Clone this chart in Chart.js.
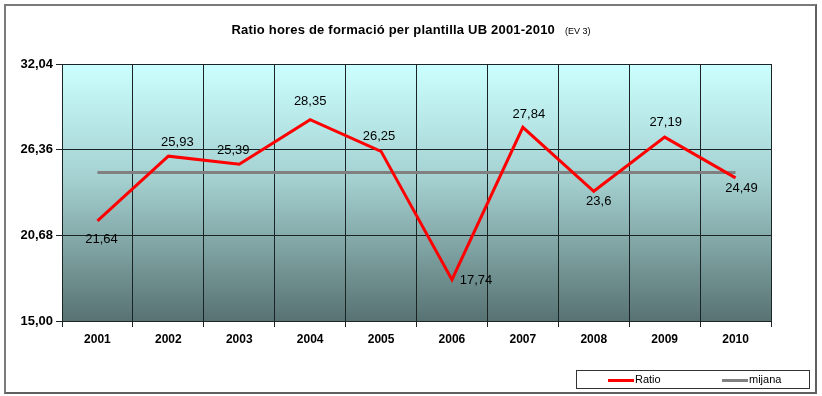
<!DOCTYPE html>
<html>
<head>
<meta charset="utf-8">
<script src="https://cdn.jsdelivr.net/npm/chart.js@4/dist/chart.umd.min.js"></script>
<style>
  body { margin: 0; background: #fff; font-family: "Liberation Sans", Arial, sans-serif; }
  #wrap { position: relative; width: 822px; height: 396px; }
  #frame { position: absolute; left: 4px; top: 4px; width: 809px; height: 386px; border: 2px solid #7a7a7a; border-right-color: #606060; border-bottom-color: #606060; }
  #title { position: absolute; left: 0; top: 22px; width: 822px; text-align: center; font-weight: bold; font-size: 13px; letter-spacing: 0.2px; color: #000; padding-right: 0px; box-sizing: border-box; }
  #title small { font-weight: normal; font-size: 9px; letter-spacing: 0; margin-left: 10px; }
  #legend { position: absolute; left: 576px; top: 370px; width: 232px; height: 17px; border: 1px solid #333; font-size: 11px; }
  .item { position: absolute; top: 2px; line-height: 13px; }
  .swatch { display: inline-block; width: 26px; height: 3px; vertical-align: middle; margin-right: 1px; }
  canvas { position: absolute; left: 0; top: 0; }
</style>
</head>
<body>
<div id="wrap">
  <div id="frame"></div>
  <canvas id="chart" width="822" height="396"></canvas>
  <div id="title">Ratio hores de formació per plantilla UB 2001-2010<small>(EV 3)</small></div>
  <div id="legend"></div>
</div>
<script>
// dades
const years = ['2001', '2002', '2003', '2004', '2005', '2006', '2007', '2008', '2009', '2010'];
const ratio = [21.64, 25.93, 25.39, 28.35, 26.25, 17.74, 27.84, 23.6, 27.19, 24.49];
const mijana = [24.84, 24.84, 24.84, 24.84, 24.84, 24.84, 24.84, 24.84, 24.84, 24.84];
const yTicks = [15.00, 20.68, 26.36, 32.04];

// on posar cada etiqueta respecte al punt (dx, dy)
const labelOffsets = [[4, 19], [9, -14], [-6, -14], [0, -18], [-2, -15], [24, 1], [6, -13], [5, 10], [1, -15], [6, 11]];

const fmt = (v) => String(v).replace('.', ',');

// fons amb degradat dins l'area del grafic
const bgPlugin = {
    id: 'bg',
    beforeDraw(chart) {
        const { ctx, chartArea: a } = chart;
        const g = ctx.createLinearGradient(0, a.top, 0, a.bottom);
        g.addColorStop(0, '#ccffff');
        g.addColorStop(0.45, '#a4d0d0');
        g.addColorStop(1, '#587272');
        ctx.save();
        ctx.fillStyle = g;
        ctx.fillRect(a.left, a.top, a.right - a.left, a.bottom - a.top);
        ctx.strokeStyle = '#a8a8a8';
        ctx.lineWidth = 1;
        ctx.beginPath();
        ctx.moveTo(a.left, a.top + 0.5);
        ctx.lineTo(a.right + 0.5, a.top + 0.5);
        ctx.lineTo(a.right + 0.5, a.bottom);
        ctx.stroke();
        ctx.restore();
    }
};

// etiquetes de valors
const labelPlugin = {
    id: 'labels',
    afterDatasetsDraw(chart) {
        const { ctx } = chart;
        const meta = chart.getDatasetMeta(0);
        ctx.save();
        ctx.font = '13px "Liberation Sans", Arial, sans-serif';
        ctx.fillStyle = '#000';
        ctx.textAlign = 'center';
        ctx.textBaseline = 'middle';
        meta.data.forEach((pt, i) => {
            const [dx, dy] = labelOffsets[i];
            ctx.fillText(fmt(ratio[i]), pt.x + dx, pt.y + dy);
        });
        ctx.restore();
    }
};

const chart = new Chart(document.getElementById('chart'), {
    type: 'line',
    data: {
        labels: years,
        datasets: [{
            label: 'Ratio',
            data: ratio,
            borderColor: '#ff0000',
            borderWidth: 3,
            pointRadius: 0,
            tension: 0,
            order: 0
        }, {
            label: 'mijana',
            data: mijana,
            borderColor: '#808080',
            borderWidth: 3,
            pointRadius: 0,
            order: 1
        }]
    },
    options: {
        responsive: false,
        animation: false,
        layout: { padding: { left: 0, top: 64, right: 51, bottom: 45 } },
        plugins: {
            legend: { display: false },
            tooltip: { enabled: false }
        },
        scales: {
            x: {
                offset: true,
                grid: { offset: true, color: '#1a2424', lineWidth: 1, tickLength: 6, drawOnChartArea: true },
                border: { color: '#1a2424' },
                ticks: { color: '#000', font: { family: '"Liberation Sans", Arial, sans-serif', size: 12, weight: 'bold' }, padding: 5, maxRotation: 0 },
                afterFit: (s) => { s.height = 30; }
            },
            y: {
                min: 15,
                max: 32.04,
                afterBuildTicks: (s) => { s.ticks = yTicks.map(v => ({ value: v })); },
                grid: { color: '#1a2424', lineWidth: 1, tickLength: 6 },
                border: { color: '#1a2424' },
                ticks: {
                    color: '#000',
                    font: { family: '"Liberation Sans", Arial, sans-serif', size: 13, weight: 'bold' },
                    padding: 3,
                    callback: (v) => v.toFixed(2).replace('.', ',')
                },
                afterFit: (s) => { s.width = 62; }
            }
        }
    },
    plugins: [bgPlugin, labelPlugin]
});

// llegenda
const legend = document.getElementById('legend');
const lefts = [31, 145];
chart.data.datasets.forEach((ds, i) => {
    const el = document.createElement('div');
    el.className = 'item';
    el.style.left = lefts[i] + 'px';
    el.innerHTML = '<span class="swatch" style="background:' + ds.borderColor + '"></span>' + ds.label;
    legend.appendChild(el);
});
</script>
</body>
</html>
